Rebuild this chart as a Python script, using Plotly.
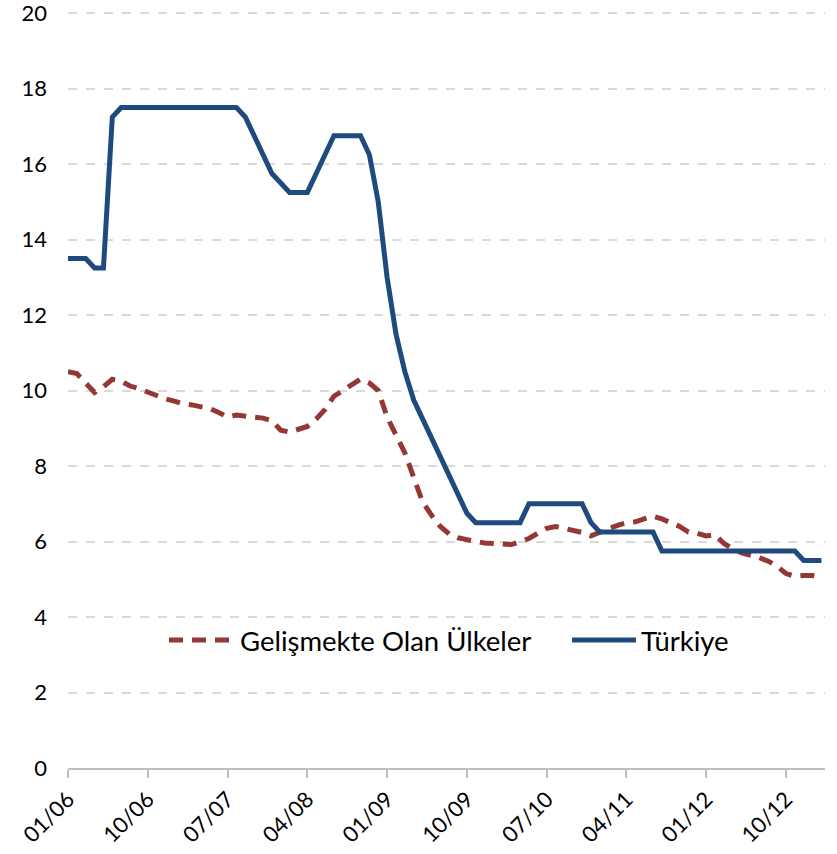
import plotly.graph_objects as go

# month index 0 = 01/06 ... 85 = 02/13
months = list(range(86))

turkiye = [13.5, 13.5, 13.5, 13.25, 13.25, 17.25, 17.5, 17.5, 17.5, 17.5,
           17.5, 17.5, 17.5, 17.5, 17.5, 17.5, 17.5, 17.5, 17.5, 17.5,
           17.25, 16.75, 16.25, 15.75, 15.5, 15.25, 15.25, 15.25, 15.75, 16.25,
           16.75, 16.75, 16.75, 16.75, 16.25, 15.0, 13.0, 11.5, 10.5, 9.75,
           9.25, 8.75, 8.25, 7.75, 7.25, 6.75, 6.5, 6.5, 6.5, 6.5,
           6.5, 6.5, 7.0, 7.0, 7.0, 7.0, 7.0, 7.0, 7.0, 6.5,
           6.25, 6.25, 6.25, 6.25, 6.25, 6.25, 6.25, 5.75, 5.75, 5.75,
           5.75, 5.75, 5.75, 5.75, 5.75, 5.75, 5.75, 5.75, 5.75, 5.75,
           5.75, 5.75, 5.75, 5.5, 5.5, 5.5]

gelismekte = [10.5, 10.45, 10.2, 9.95, 10.1, 10.3, 10.25, 10.12, 10.05, 9.95,
              9.85, 9.78, 9.72, 9.65, 9.62, 9.57, 9.52, 9.42, 9.3, 9.35,
              9.33, 9.3, 9.27, 9.2, 8.95, 8.9, 8.97, 9.05, 9.25, 9.5,
              9.85, 10.0, 10.15, 10.3, 10.2, 10.0, 9.3, 8.85, 8.35, 7.7,
              7.05, 6.7, 6.4, 6.2, 6.1, 6.05, 6.0, 5.96, 5.95, 5.93,
              5.92, 6.0, 6.08, 6.22, 6.35, 6.4, 6.35, 6.3, 6.24, 6.15,
              6.25, 6.35, 6.43, 6.5, 6.52, 6.6, 6.67, 6.6, 6.5, 6.4,
              6.25, 6.22, 6.15, 6.18, 5.95, 5.8, 5.7, 5.65, 5.57, 5.48,
              5.35, 5.15, 5.08, 5.1, 5.1, 5.05]

tick_vals = [0, 9, 18, 27, 36, 45, 54, 63, 72, 81]
tick_text = ["01/06", "10/06", "07/07", "04/08", "01/09", "10/09", "07/10", "04/11", "01/12", "10/12"]
y_ticks = [0, 2, 4, 6, 8, 10, 12, 14, 16, 18, 20]

fig = go.Figure()
fig.add_trace(go.Scatter(x=months, y=gelismekte, mode="lines", name="Gelişmekte Olan Ülkeler",
                         line=dict(color="#953735", width=5, dash="14px,9px"), legend="legend"))
fig.add_trace(go.Scatter(x=months, y=turkiye, mode="lines", name="Türkiye",
                         line=dict(color="#1F4A7E", width=5), legend="legend2"))

leg_common = dict(orientation="h", y=0.169, yanchor="middle", xanchor="left",
                  font=dict(size=27.5), bgcolor="rgba(0,0,0,0)")

fig.update_layout(
    width=837, height=854,
    margin=dict(l=68, r=12, t=12, b=86),
    paper_bgcolor="white", plot_bgcolor="white",
    font=dict(family="Lato, Calibri, sans-serif", size=22, color="#000000"),
    legend=dict(x=0.1268, itemwidth=66, **leg_common),
    legend2=dict(x=0.6592, itemwidth=64, **leg_common),
    showlegend=True,
)
fig.update_xaxes(range=[0, 85.4], tickmode="array", tickvals=tick_vals, ticktext=tick_text,
                 tickangle=-45, showgrid=False, zeroline=False, automargin=False,
                 showline=True, linecolor="#BFBFBF", linewidth=1.5,
                 ticks="outside", ticklen=8, tickcolor="#BFBFBF", tickwidth=1.5,
                 tickfont=dict(size=22), ticklabeloverflow="allow")
fig.update_yaxes(range=[0, 20.03], tickmode="array", tickvals=y_ticks,
                 showgrid=True, gridcolor="#D9D9D9", griddash="dash",
                 gridwidth=1.5, zeroline=False, showline=False, ticks="", automargin=False,
                 tickfont=dict(size=22), ticklabelstandoff=20, ticklabeloverflow="allow")

fig.write_html("out.html", config={"displayModeBar": False},
               post_script="document.body.style.margin='0';")
